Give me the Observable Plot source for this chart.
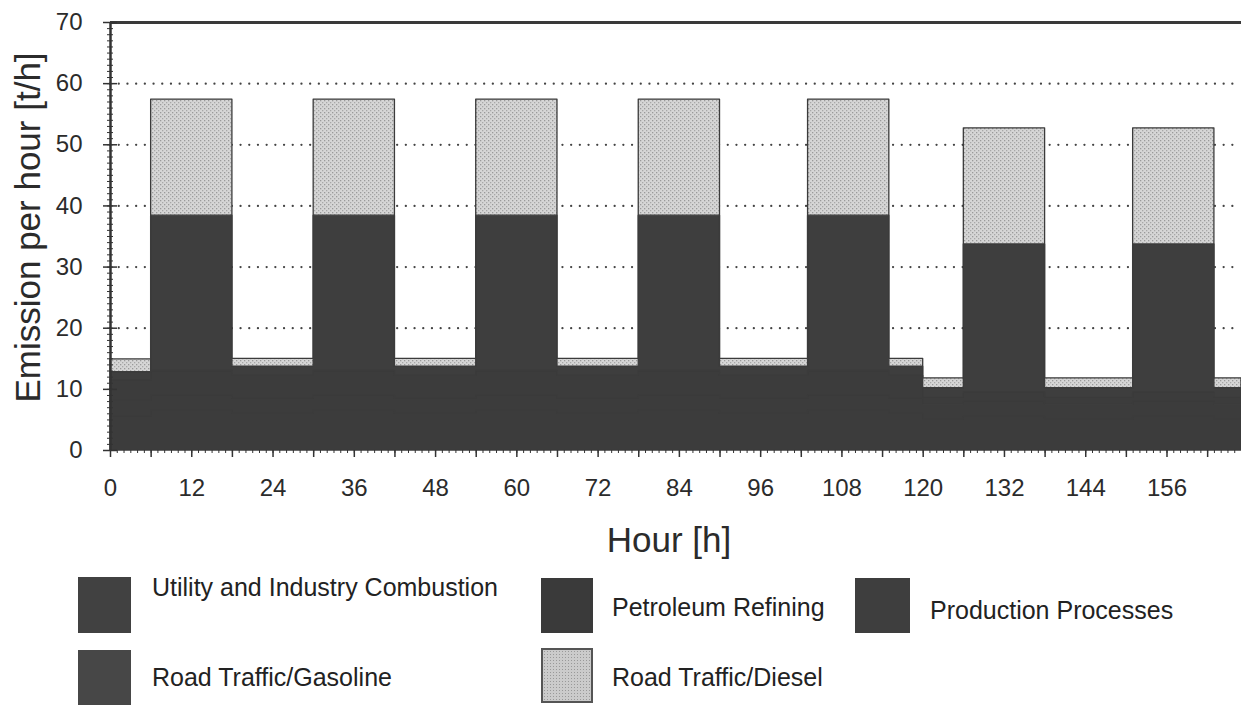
<!DOCTYPE html>
<html>
<head>
<meta charset="utf-8">
<script src="https://cdn.jsdelivr.net/npm/d3@7"></script>
<script src="https://cdn.jsdelivr.net/npm/@observablehq/plot@0.6"></script>
<style>
  html, body { margin: 0; padding: 0; background: #fff; }
  #wrap { position: relative; width: 1241px; height: 705px; overflow: hidden; font-family: "Liberation Sans", Arial, sans-serif; }
  #legend { position: absolute; left: 0; top: 570px; width: 1241px; height: 135px; }
  .sw { position: absolute; box-sizing: border-box; }
  .lb { position: absolute; font-size: 25px; line-height: 25px; color: #222; white-space: nowrap; }
</style>
</head>
<body>
<div id="wrap">
  <div id="chart"></div>
  <div id="legend"></div>
</div>
<script>
// Breakpoint hours (value holds from this hour to the next)
const hours      = [0,   6,    18,  30,   42,  54,   66,  78,   90,  103,  115, 120, 126,  138, 151,  163, 167];
const utility    = [5.6, 6.5,  6.0, 6.5,  6.0, 6.5,  6.0, 6.5,  6.0, 6.5,  6.0, 5.0, 5.5,  5.0, 5.5,  5.0, 5.0];
const petroleum  = [2.5, 2.5,  2.5, 2.5,  2.5, 2.5,  2.5, 2.5,  2.5, 2.5,  2.5, 2.5, 2.5,  2.5, 2.5,  2.5, 2.5];
const production = [3.4, 4.0,  3.7, 4.0,  3.7, 4.0,  3.7, 4.0,  3.7, 4.0,  3.7, 1.2, 1.5,  1.2, 1.5,  1.2, 1.2];
const gasoline   = [1.3, 25.4, 1.5, 25.4, 1.5, 25.4, 1.5, 25.4, 1.5, 25.4, 1.5, 1.5, 24.2, 1.5, 24.2, 1.5, 1.5];
const diesel     = [2.1, 19.0, 1.3, 19.0, 1.3, 19.0, 1.3, 19.0, 1.3, 19.0, 1.3, 1.6, 19.0, 1.6, 19.0, 1.6, 1.6];

const seriesNames = ["Utility and Industry Combustion", "Petroleum Refining", "Production Processes", "Road Traffic/Gasoline", "Road Traffic/Diesel"];
const seriesValues = [utility, petroleum, production, gasoline, diesel];
const seriesColors = ["#3c3c3c", "#3c3c3c", "#3c3c3c", "#3e3e3e", "url(#dieselPat)"];
const legendColors = ["#414141", "#3a3a3a", "#3e3e3e", "#474747", "#cbcbcb"];

const xTickLabels = [0, 12, 24, 36, 48, 60, 72, 84, 96, 108, 120, 132, 144, 156];
const yTickLabels = [0, 10, 20, 30, 40, 50, 60, 70];
const gridValues  = [10, 20, 30, 40, 50, 60];
const xMajorTicks = d3.range(0, 168, 6);
const xMinorTicks = d3.range(0, 168, 1);
const yMinorTicks = d3.range(0, 71, 1);

const rows = seriesNames.flatMap((s, i) => hours.map((h, j) => ({hour: h, value: seriesValues[i][j], source: s})));

const ink = "#2b2b2b";

const chart = Plot.plot({
  width: 1241,
  height: 570,
  marginLeft: 110,
  marginRight: 0,
  marginTop: 22,
  marginBottom: 120,
  x: {domain: [0, 167]},
  y: {domain: [0, 70]},
  color: {domain: seriesNames, range: seriesColors},
  style: {fontFamily: "'Liberation Sans', Arial, sans-serif", background: "white", overflow: "visible"},
  marks: [
    Plot.ruleY(gridValues, {stroke: "#444", strokeWidth: 2.2, strokeDasharray: "0.1,8.6", strokeLinecap: "round"}),
    Plot.areaY(rows, {x: "hour", y: "value", z: "source", fill: "source", curve: "step-after", stroke: "#3b3b3b", strokeWidth: 1.3}),
    Plot.ruleY([70], {stroke: "#3a3a3a", strokeWidth: 3}),
    Plot.ruleX([0], {stroke: "#333", strokeWidth: 2.5}),
    Plot.axisY(yMinorTicks, {anchor: "left", tickSize: 6, dx: 3, tickFormat: () => "", label: null, color: "#333"}),
    Plot.axisY(yTickLabels, {anchor: "left", tickSize: 14, dx: 7, tickFormat: () => "", label: null, color: "#333", strokeWidth: 1.5}),
    Plot.axisY(yTickLabels, {anchor: "left", tickSize: 0, tickPadding: 28, fontSize: 24, label: null, color: ink}),
    Plot.axisX(xMinorTicks, {anchor: "bottom", tickSize: 3, tickFormat: () => "", label: null, color: "#333"}),
    Plot.axisX(xMajorTicks, {anchor: "bottom", tickSize: 7, tickFormat: () => "", label: null, color: "#333", strokeWidth: 1.5}),
    Plot.axisX(xTickLabels, {anchor: "bottom", tickSize: 0, tickPadding: 28, fontSize: 24, label: null, color: ink}),
    Plot.text(["Emission per hour [t/h]"], {text: d => d, frameAnchor: "left", textAnchor: "middle", lineAnchor: "middle", rotate: -90, dx: -82, dy: -9, fontSize: 35, fill: ink}),
    Plot.text(["Hour [h]"], {text: d => d, frameAnchor: "bottom", lineAnchor: "top", dy: 77, dx: -7, fontSize: 35, fill: ink})
  ]
});

// stipple pattern for the diesel layer
const ns = "http://www.w3.org/2000/svg";
const defs = document.createElementNS(ns, "defs");
defs.innerHTML = `<pattern id="dieselPat" patternUnits="userSpaceOnUse" width="4" height="4">
  <rect width="4" height="4" fill="#d6d6d6"/>
  <rect x="0" y="0" width="1.3" height="1.3" fill="#9a9a9a"/>
  <rect x="2" y="2" width="1.3" height="1.3" fill="#a8a8a8"/>
</pattern>`;
chart.insertBefore(defs, chart.firstChild);
document.getElementById("chart").appendChild(chart);

// Legend (HTML, below the SVG)
const legendLayout = [
  {sw: [78, 7, 53, 56],  lb: [152, 5]},
  {sw: [541, 8, 52, 55], lb: [612, 25]},
  {sw: [855, 8, 55, 55], lb: [930, 28]},
  {sw: [78, 80, 53, 55], lb: [152, 95]},
  {sw: [541, 78, 52, 55], lb: [612, 95]}
];
const legend = document.getElementById("legend");
seriesNames.forEach((name, i) => {
  const L = legendLayout[i];
  const sw = document.createElement("div");
  sw.className = "sw";
  sw.style.left = L.sw[0] + "px"; sw.style.top = L.sw[1] + "px";
  sw.style.width = L.sw[2] + "px"; sw.style.height = L.sw[3] + "px";
  sw.style.background = legendColors[i];
  if (i === 4) {
    sw.style.border = "2px solid #555";
    sw.style.backgroundImage = "radial-gradient(#999 0.7px, transparent 0.9px)";
    sw.style.backgroundSize = "3px 3px";
  }
  legend.appendChild(sw);
  const lb = document.createElement("div");
  lb.className = "lb";
  lb.style.left = L.lb[0] + "px"; lb.style.top = L.lb[1] + "px";
  lb.textContent = name;
  legend.appendChild(lb);
});
</script>
</body>
</html>
